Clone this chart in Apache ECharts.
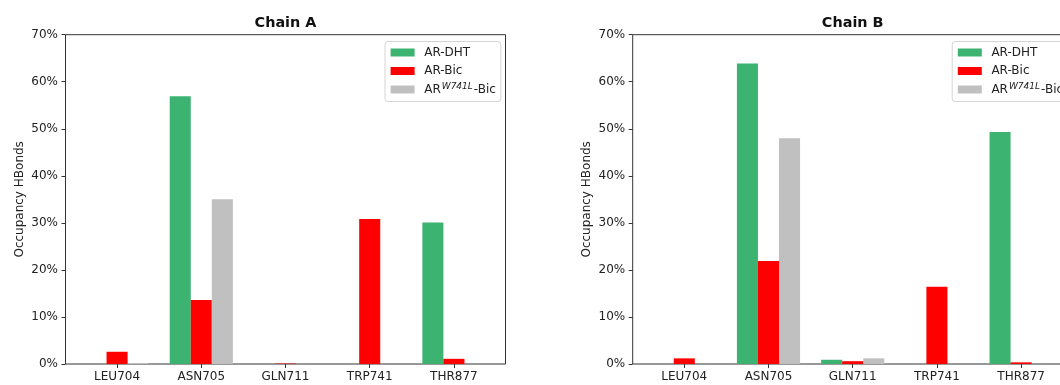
<!DOCTYPE html>
<html>
<head>
<meta charset="utf-8">
<script src="https://cdn.jsdelivr.net/npm/echarts@6/dist/echarts.min.js"></script>
<style>
  html, body { margin: 0; padding: 0; background: #fff; }
  #chart { width: 1060px; height: 385px; }
</style>
</head>
<body>
<div id="chart"></div>
<script>
// Hydrogen-bond occupancy (%) per residue, for the two chains
const categories = ['LEU704', 'ASN705', 'GLN711', 'TRP741', 'THR877'];
const seriesNames = ['AR-DHT', 'AR-Bic', 'AR-W741L-Bic'];
const chainA_DHT   = [0, 56.9, 0, 0, 30.1];
const chainA_Bic   = [2.6, 13.6, 0.1, 30.8, 1.1];
const chainA_W741L = [0.2, 35.0, 0, 0, 0];
const chainB_DHT   = [0, 63.9, 0.9, 0, 49.3];
const chainB_Bic   = [1.2, 21.9, 0.6, 16.4, 0.35];
const chainB_W741L = [0, 48.0, 1.2, 0, 0];
const yTicks = [0, 10, 20, 30, 40, 50, 60, 70];
const panelTitles = ['Chain A', 'Chain B'];
const yAxisName = 'Occupancy HBonds';

const colors = ['#3cb371', '#ff0000', '#c0c0c0'];
const FONT = 'DejaVu Sans';
const TXT = '#222';
const LINE = '#333';

// panel geometry: frame box spans the padded x range, bars sit in the inner category band
const TOP = 34.7, HEIGHT = 329.3, FRAME_W = 440;
const UNIT = FRAME_W / 5.225;              // width of one category slot
const PAD = (0.6125 - 0.5) * UNIT;         // frame edge to first band edge
const DATA_W = 5 * UNIT;
const BAR_W = 0.25 * UNIT;
const frameLefts = [65.5, 632.7];
const LEGEND_OFFSET = 319.5;

const grids = [], xAxes = [], yAxes = [], titles = [], legends = [], series = [];
const chainData = [
  [chainA_DHT, chainA_Bic, chainA_W741L],
  [chainB_DHT, chainB_Bic, chainB_W741L]
];

frameLefts.forEach((frameLeft, i) => {
  const gFrame = grids.length;
  // frame grid: draws the box and the y axis (the second panel runs past the right edge)
  grids.push({ left: frameLeft, top: TOP, width: FRAME_W, height: HEIGHT, outerBoundsMode: 'none',
    show: true, borderColor: LINE, borderWidth: 1, backgroundColor: 'transparent' });
  // data grid: holds the category axis and the bars
  const gData = grids.length;
  grids.push({ left: frameLeft + PAD, top: TOP, width: DATA_W, height: HEIGHT,
    outerBoundsMode: 'none', show: false });

  xAxes.push({ gridIndex: gFrame, type: 'value', min: 0, max: 1, show: false });
  yAxes.push({
    gridIndex: gFrame, type: 'value', min: yTicks[0], max: yTicks[yTicks.length - 1], interval: 10,
    name: yAxisName, nameLocation: 'middle', nameGap: 40,
    nameTextStyle: { fontFamily: FONT, fontSize: 12, color: TXT },
    axisLine: { show: false },
    axisTick: { show: true, length: 4, lineStyle: { color: LINE } },
    axisLabel: { formatter: '{value}%', fontFamily: FONT, fontSize: 12, color: TXT, margin: 7.5 },
    splitLine: { show: false }
  });

  const xi = xAxes.length;
  xAxes.push({
    gridIndex: gData, type: 'category', data: categories,
    axisLine: { show: false },
    axisTick: { show: true, alignWithLabel: true, length: 4, lineStyle: { color: LINE } },
    axisLabel: { fontFamily: FONT, fontSize: 12, color: TXT, margin: 7 }
  });
  const yi = yAxes.length;
  yAxes.push({ gridIndex: gData, type: 'value', min: yTicks[0], max: yTicks[yTicks.length - 1], show: false });

  titles.push({
    text: panelTitles[i], left: frameLeft + FRAME_W / 2, top: 16, textAlign: 'center', padding: 0,
    textStyle: { fontFamily: FONT, fontSize: 14.4, fontWeight: 'bold', color: '#111' }
  });

  legends.push({
    orient: 'vertical', left: frameLeft + LEGEND_OFFSET, top: 41.5,
    data: seriesNames,
    icon: 'rect', itemWidth: 24, itemHeight: 8, itemGap: 4.5,
    padding: [4, 5, 4, 5.6],
    borderColor: '#d4d4d4', borderWidth: 1, borderRadius: 3,
    backgroundColor: 'rgba(255,255,255,0.85)',
    selectedMode: false,
    formatter: name => name === 'AR-W741L-Bic' ? 'AR{sup|W741L}-Bic' : name,
    textStyle: {
      fontFamily: FONT, fontSize: 12, color: TXT, lineHeight: 14, padding: [0, 0, 0, 4.6],
      rich: { sup: { fontFamily: FONT, fontSize: 9, fontStyle: 'italic', color: TXT,
                     verticalAlign: 'top', lineHeight: 9, padding: [0, 1, 6, 1] } }
    }
  });

  chainData[i].forEach((vals, k) => {
    series.push({
      name: seriesNames[k], type: 'bar', xAxisIndex: xi, yAxisIndex: yi,
      data: vals, barWidth: BAR_W, barGap: '0%',
      itemStyle: { color: colors[k] },
      emphasis: { disabled: true },
      animation: false
    });
  });
});

const chart = echarts.init(document.getElementById('chart'), null, { renderer: 'canvas' });
chart.setOption({
  animation: false,
  title: titles,
  legend: legends,
  grid: grids,
  xAxis: xAxes,
  yAxis: yAxes,
  series: series
});
</script>
</body>
</html>
